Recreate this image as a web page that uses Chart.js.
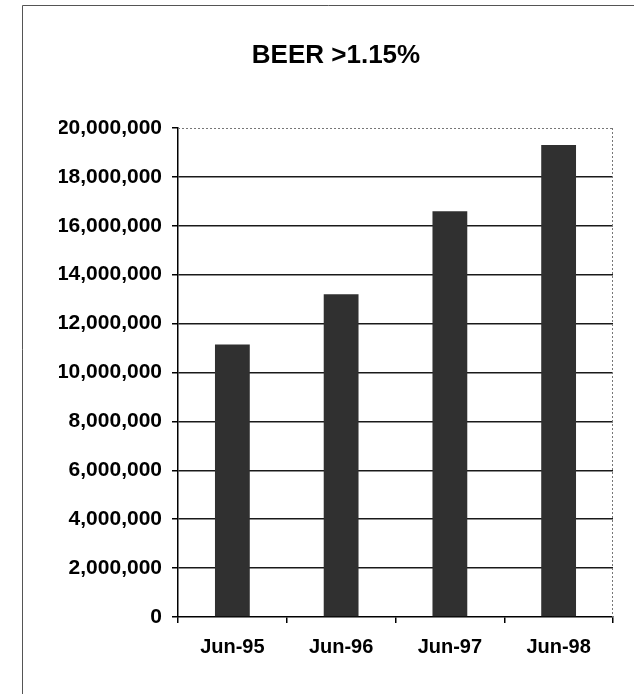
<!DOCTYPE html>
<html>
<head>
<meta charset="utf-8">
<script src="https://cdn.jsdelivr.net/npm/chart.js@4.4.1/dist/chart.umd.min.js"></script>
<style>
  html, body { margin: 0; padding: 0; background: #ffffff; }
  #wrap { position: relative; width: 634px; height: 694px; }
</style>
</head>
<body>
<div id="wrap"><canvas id="c" width="634" height="694"></canvas></div>
<script>
const categories = ['Jun-95', 'Jun-96', 'Jun-97', 'Jun-98'];
const beerValues = [11150000, 13200000, 16600000, 19300000];
const chartTitle = 'BEER >1.15%';
const yMin = 0;
const yMax = 20000000;
const yStep = 2000000;

const framePlugin = {
  id: 'frame',
  beforeDraw(chart) {
    const ctx = chart.ctx;
    ctx.save();
    ctx.strokeStyle = '#555555';
    ctx.lineWidth = 1;
    ctx.beginPath();
    ctx.moveTo(22.5, 694);
    ctx.lineTo(22.5, 5.5);
    ctx.lineTo(634, 5.5);
    ctx.stroke();
    ctx.restore();
  },
  afterDatasetsDraw(chart) {
    const a = chart.chartArea;
    const ctx = chart.ctx;
    ctx.save();
    ctx.strokeStyle = '#777777';
    ctx.lineWidth = 1;
    ctx.setLineDash([2, 2]);
    ctx.beginPath();
    ctx.moveTo(a.left, a.top + 0.5);
    ctx.lineTo(a.right, a.top + 0.5);
    ctx.moveTo(a.right - 0.5, a.top);
    ctx.lineTo(a.right - 0.5, a.bottom);
    ctx.stroke();
    ctx.restore();
  }
};

new Chart(document.getElementById('c'), {
  type: 'bar',
  data: {
    labels: categories,
    datasets: [{
      data: beerValues,
      backgroundColor: '#303030',
      borderWidth: 0,
      barPercentage: 0.32,
      categoryPercentage: 1.0
    }]
  },
  options: {
    responsive: false,
    animation: false,
    devicePixelRatio: 1,
    layout: { padding: { left: 59, right: 21, top: 0, bottom: 0 } },
    plugins: {
      legend: { display: false },
      tooltip: { enabled: false },
      title: {
        display: true,
        text: chartTitle,
        color: '#000000',
        font: { family: 'Liberation Sans', size: 26, weight: 'bold' },
        padding: { top: 40, bottom: 56.8 }
      }
    },
    scales: {
      x: {
        offset: true,
        grid: {
          display: true,
          offset: true,
          drawOnChartArea: false,
          drawTicks: true,
          tickLength: 6,
          tickColor: '#000000',
          lineWidth: 1.5
        },
        border: { display: true, color: '#000000', width: 1.5 },
        ticks: {
          color: '#000000',
          font: { family: 'Liberation Sans', size: 20, weight: 'bold' },
          padding: 12,
          maxRotation: 0
        },
        afterFit(scale) { scale.height = 77; }
      },
      y: {
        min: yMin,
        max: yMax,
        ticks: {
          stepSize: yStep,
          color: '#000000',
          font: { family: 'Liberation Sans', size: 21, weight: 'bold' },
          padding: 10,
          callback: (v) => v.toLocaleString('en-US')
        },
        grid: {
          drawTicks: true,
          tickLength: 6,
          tickColor: '#000000',
          color: (c) => (c.tick && (c.tick.value === yMax || c.tick.value === yMin)) ? 'rgba(0,0,0,0)' : '#1a1a1a',
          lineWidth: 1.5
        },
        border: { display: true, color: '#000000', width: 1.5 },
        afterFit(scale) { scale.width = 119; }
      }
    }
  },
  plugins: [framePlugin]
});
</script>
</body>
</html>
